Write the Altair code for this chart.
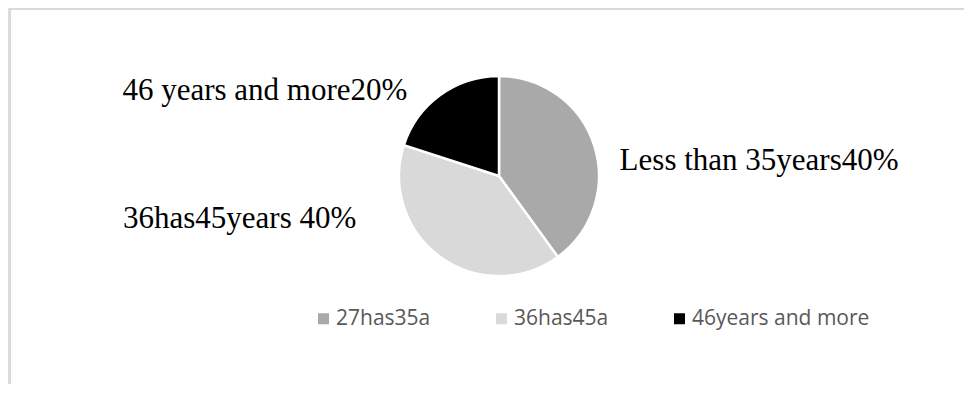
import altair as alt
import pandas as pd

# ---- data ----
categories = ["27has35a", "36has45a", "46years and more"]
shares = [40, 40, 20]
slice_labels = ["Less than 35years40%", "36has45years 40%", "46 years and more20%"]
colors = ["#A9A9A9", "#D9D9D9", "#000000"]

df = pd.DataFrame({
    "idx": list(range(len(categories))),
    "category": categories,
    "share": shares,
    "label": slice_labels,
})

W, H = 956, 376
CX, CY = 491, 168   # pie centre inside the svg
R = 100

base = alt.Chart(df)

pie = base.mark_arc(radius=R, stroke="white", strokeWidth=2.5).encode(
    theta=alt.Theta("share:Q", stack=True),
    order=alt.Order("idx:Q"),
    color=alt.Color(
        "category:N",
        scale=alt.Scale(domain=categories, range=colors),
        sort=categories,
        legend=alt.Legend(
            title=None,
            orient="none",
            legendX=305,
            legendY=300,
            direction="horizontal",
            columns=3,
            columnPadding=60,
            symbolType="square",
            symbolSize=121,
            symbolStrokeWidth=0,
            labelFont="Open Sans",
            labelFontSize=21,
            labelColor="#595959",
            labelOffset=2,
            labelLimit=400,
            padding=0,
        ),
    ),
    x=alt.value(CX),
    y=alt.value(CY),
)

# per-slice label placement (offsets from the slice's mid-angle anchor)
placements = [
    dict(align="left", dx=16, dy=28),
    dict(align="right", dx=-78, dy=-37),
    dict(align="right", dx=-27, dy=13),
]

texts = []
for i, p in enumerate(placements):
    t = base.transform_calculate(
        txt=f"datum.idx == {i} ? datum.label : ''"
    ).mark_text(
        radius=110,
        font="Liberation Serif",
        fontSize=31,
        color="#000000",
        baseline="alphabetic",
        align=p["align"],
        dx=p["dx"],
        dy=p["dy"],
    ).encode(
        theta=alt.Theta("share:Q", stack=True),
        order=alt.Order("idx:Q"),
        text="txt:N",
        x=alt.value(CX),
        y=alt.value(CY),
    )
    texts.append(t)

# light grey chart frame (top and left edges visible in the reference)
frame_top = alt.Chart(df).mark_rule(color="#D9D9D9", strokeWidth=2).encode(
    x=alt.value(2), x2=alt.value(W), y=alt.value(1)
)
frame_left = alt.Chart(df).mark_rule(color="#D9D9D9", strokeWidth=2).encode(
    x=alt.value(2), y=alt.value(0), y2=alt.value(H)
)

chart = alt.layer(frame_top, frame_left, pie, *texts).properties(
    width=W, height=H, padding=0, autosize=alt.AutoSizeParams(type="none")
).configure_view(stroke=None).configure(background="white")

chart.save("out.html", embed_options={"renderer": "svg", "actions": False})
